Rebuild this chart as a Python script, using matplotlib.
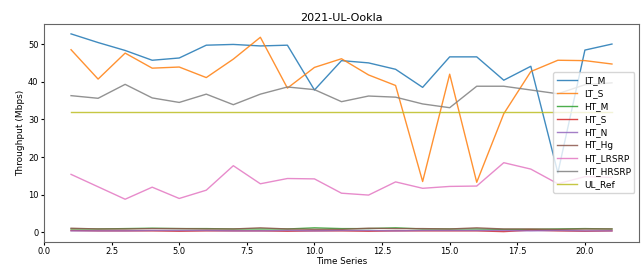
import numpy as np
import matplotlib
matplotlib.use("Agg")
import matplotlib.pyplot as plt

t = list(range(1, 22))

lt_m = [52.7, 50.4, 48.3, 45.7, 46.3, 49.7, 49.9, 49.5, 49.7, 37.8,
        45.6, 45.0, 43.3, 38.5, 46.6, 46.6, 40.4, 44.1, 15.8, 48.4, 50.0]
lt_s = [48.5, 40.7, 47.6, 43.6, 43.9, 41.1, 46.0, 51.8, 38.3, 43.8,
        46.1, 41.8, 39.0, 13.5, 42.0, 13.3, 31.5, 42.7, 45.7, 45.6, 44.7]
ht_m = [0.9, 0.9, 1.0, 1.1, 1.0, 1.0, 0.9, 0.9, 0.9, 1.2,
        1.0, 1.0, 1.2, 0.9, 0.9, 0.9, 0.8, 0.8, 0.9, 1.0, 0.9]
ht_s = [0.5, 0.4, 0.4, 0.4, 0.3, 0.4, 0.4, 0.4, 0.3, 0.4,
        0.4, 0.3, 0.4, 0.4, 0.4, 0.4, 0.2, 0.6, 0.4, 0.3, 0.4]
ht_n = [0.4, 0.4, 0.4, 0.5, 0.5, 0.5, 0.4, 0.4, 0.5, 0.4,
        0.5, 0.5, 0.4, 0.5, 0.5, 0.5, 0.5, 0.4, 0.5, 0.4, 0.4]
ht_hg = [1.1, 0.9, 0.9, 1.0, 1.0, 0.9, 0.9, 1.2, 0.9, 0.8,
         0.8, 1.1, 1.0, 1.0, 0.9, 1.2, 0.9, 0.9, 0.8, 0.9, 0.9]
ht_lrsrp = [15.4, 12.1, 8.8, 12.0, 9.0, 11.2, 17.7, 12.9, 14.3, 14.2,
            10.4, 9.9, 13.4, 11.7, 12.2, 12.3, 18.5, 16.8, 12.9, 14.8, 14.6]
ht_hrsrp = [36.3, 35.6, 39.3, 35.7, 34.5, 36.7, 33.9, 36.7, 38.6, 37.9,
            34.7, 36.2, 35.9, 34.1, 33.1, 38.8, 38.8, 37.8, 36.8, 39.2, 39.7]
ul_ref = [32.0] * 21

series = [
    ("LT_M", lt_m), ("LT_S", lt_s), ("HT_M", ht_m), ("HT_S", ht_s),
    ("HT_N", ht_n), ("HT_Hg", ht_hg), ("HT_LRSRP", ht_lrsrp),
    ("HT_HRSRP", ht_hrsrp), ("UL_Ref", ul_ref),
]

plt.rcParams.update({'font.size': 6.5})
fig, ax = plt.subplots(figsize=(6.41, 2.66), dpi=100)
fig.subplots_adjust(left=44/641, right=639/641, top=1-24/266, bottom=1-241.5/266)

for i, (name, vals) in enumerate(series):
    ax.plot(t, vals, color="C%d" % i, lw=1.0, alpha=0.85, label=name)

ax.set_title("2021-UL-Ookla", fontsize=8, pad=2)
ax.set_xlabel("Time Series", labelpad=0.5, fontsize=6.3)
ax.set_ylabel("Throughput (Mbps)", labelpad=2)
ax.tick_params(labelsize=6, length=2.5, pad=1.5)
for s in ax.spines.values():
    s.set_color("#666666")
ax.set_xticks([0, 2.5, 5, 7.5, 10, 12.5, 15, 17.5, 20])
ax.legend(loc="center right", fontsize=6.5, framealpha=0.8,
          handlelength=2.2, labelspacing=0.45, borderpad=0.4)

plt.savefig("out.png")
plt.close(fig)
